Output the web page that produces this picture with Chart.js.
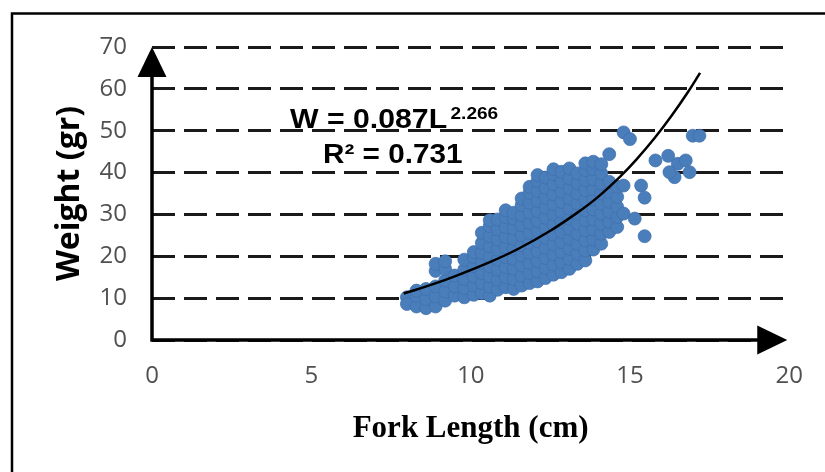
<!DOCTYPE html>
<html>
<head>
<meta charset="utf-8">
<title>Fork length vs weight</title>
<script src="https://cdn.jsdelivr.net/npm/chart.js@4.4.0/dist/chart.umd.min.js"></script>
<style>
  html, body { margin: 0; padding: 0; background: #fff; }
  #wrap { width: 825px; height: 472px; }
</style>
</head>
<body>
<div id="wrap"><canvas id="chart" width="825" height="472"></canvas></div>
<script>
// axis ticks
const xTicks = [0, 5, 10, 15, 20];
const yTicks = [0, 10, 20, 30, 40, 50, 60, 70];

// main cloud (fork length -> weights)
const colLength = [8.0, 8.3, 8.6, 8.9, 9.2, 9.5, 9.8, 10.1, 10.35, 10.6, 10.85, 11.1, 11.35, 11.6,
                   11.85, 12.1, 12.35, 12.6, 12.85, 13.1, 13.35, 13.6, 13.85, 14.1, 14.35, 14.6, 14.8];
const colWeight = [
  [10.2, 8.6],
  [8.0, 10.5, 11.8],
  [7.6, 9.8, 12.2],
  [8.0, 10.4, 12.8, 16.5, 18.2],
  [9.4, 11.6, 14.2, 17.0, 18.8],
  [10.6, 12.8, 15.4],
  [10.2, 12.4, 14.6, 16.8, 19.2],
  [10.8, 13.0, 15.2, 17.6, 19.8, 21.0],
  [11.2, 13.6, 16.0, 18.4, 20.8, 23.2, 25.6],
  [10.6, 12.8, 15.2, 17.6, 20.0, 22.4, 24.8, 27.2, 28.6],
  [12.0, 14.4, 16.8, 19.2, 21.6, 24.0, 26.4, 28.8],
  [12.6, 15.0, 17.4, 19.8, 22.2, 24.6, 27.0, 29.4, 31.0],
  [12.2, 14.6, 17.0, 19.4, 21.8, 24.2, 26.6, 29.0, 30.4],
  [13.0, 15.4, 17.8, 20.2, 22.6, 25.0, 27.4, 29.8, 32.2, 33.8],
  [13.6, 16.0, 18.4, 20.8, 23.2, 25.6, 28.0, 30.4, 32.8, 35.2, 36.6],
  [14.0, 16.4, 18.8, 21.2, 23.6, 26.0, 28.4, 30.8, 33.2, 35.6, 38.0, 39.4],
  [14.8, 17.2, 19.6, 22.0, 24.4, 26.8, 29.2, 31.6, 34.0, 36.4, 38.8],
  [15.6, 18.0, 20.4, 22.8, 25.2, 27.6, 30.0, 32.4, 34.8, 37.2, 39.6, 40.8],
  [16.2, 18.6, 21.0, 23.4, 25.8, 28.2, 30.6, 33.0, 35.4, 37.8, 40.2],
  [17.0, 19.4, 21.8, 24.2, 26.6, 29.0, 31.4, 33.8, 36.2, 38.6, 41.0],
  [18.2, 20.6, 23.0, 25.4, 27.8, 30.2, 32.6, 35.0, 37.4, 39.8],
  [19.0, 21.4, 23.8, 26.2, 28.6, 31.0, 33.4, 35.8, 38.2, 40.6, 42.2],
  [21.6, 24.0, 26.4, 28.8, 31.2, 33.6, 36.0, 38.4, 40.8, 42.6],
  [23.0, 25.4, 27.8, 30.2, 32.6, 35.0, 37.4, 39.8, 42.0],
  [25.8, 28.2, 30.6, 33.0, 35.4, 37.8, 44.4],
  [27.0, 29.4, 31.8, 34.2, 36.6],
  [30.2, 36.9, 49.6]
];

// fish sitting away from the main cloud
const outLength = [15.0, 15.35, 15.46, 15.15, 15.46, 15.8, 16.2, 16.5, 16.75, 16.4, 16.87, 16.24, 16.97, 17.18];
const outWeight = [48.0, 36.9, 34.0, 29.0, 24.8, 42.9, 44.0, 42.1, 42.9, 38.9, 40.1, 40.1, 48.8, 48.8];

// fitted power curve as drawn in the figure
const trendLength = [7.9, 8.8, 9.5, 10.6, 11.5, 12.5, 13.4, 14.0, 14.7, 15.2, 15.8, 16.3, 16.8, 17.2];
const trendWeight = [11.1, 13.3, 15.2, 18.6, 21.8, 26.1, 30.7, 34.2, 39.1, 43.1, 48.5, 53.5, 59.0, 63.8];

const eqText = 'W = 0.087L';
const eqPower = '2.266';
const r2Text = 'R\u00b2 = 0.731';

// build point lists for the library
const cloud = [];
colLength.forEach((len, i) => {
  colWeight[i].forEach(w => cloud.push({ x: len, y: w }));
});
outLength.forEach((len, i) => cloud.push({ x: len, y: outWeight[i] }));
const trend = trendLength.map((len, i) => ({ x: len, y: trendWeight[i] }));

const tickFont = { family: '"Open Sans", sans-serif', size: 24 };
const tickColor = '#505050';

// frame, arrow axes and the equation text
const decor = {
  id: 'decor',
  afterDraw(chart) {
    const ctx = chart.ctx;
    const a = chart.chartArea;
    ctx.save();
    ctx.strokeStyle = '#000';
    ctx.fillStyle = '#000';

    // outer box (only top and left edges are inside the picture)
    ctx.lineWidth = 2.5;
    ctx.beginPath();
    ctx.moveTo(12, 472);
    ctx.lineTo(12, 13.5);
    ctx.lineTo(825, 13.5);
    ctx.stroke();

    // axes
    ctx.lineWidth = 3.5;
    ctx.beginPath();
    ctx.moveTo(a.left, a.top + 20);
    ctx.lineTo(a.left, a.bottom);
    ctx.lineTo(a.right - 20, a.bottom);
    ctx.stroke();

    // arrow heads
    ctx.beginPath();
    ctx.moveTo(a.left, a.top);
    ctx.lineTo(a.left - 14.5, a.top + 30);
    ctx.lineTo(a.left + 14.5, a.top + 30);
    ctx.closePath();
    ctx.fill();
    ctx.beginPath();
    ctx.moveTo(a.right - 2, a.bottom);
    ctx.lineTo(a.right - 32, a.bottom - 14.5);
    ctx.lineTo(a.right - 32, a.bottom + 14.5);
    ctx.closePath();
    ctx.fill();

    // equation
    ctx.textBaseline = 'alphabetic';
    ctx.textAlign = 'left';
    ctx.save();
    ctx.translate(290, 128);
    ctx.scale(1.12, 1);
    ctx.font = 'bold 27px "Liberation Sans", Arial, sans-serif';
    ctx.fillText(eqText, 0, 0);
    const w = ctx.measureText(eqText).width;
    ctx.font = 'bold 17px "Liberation Sans", Arial, sans-serif';
    ctx.fillText(eqPower, w + 3, -9);
    ctx.restore();

    ctx.save();
    ctx.translate(323, 163);
    ctx.scale(1.1, 1);
    ctx.font = 'bold 27px "Liberation Sans", Arial, sans-serif';
    ctx.fillText(r2Text, 0, 0);
    ctx.restore();

    ctx.restore();
  }
};

new Chart(document.getElementById('chart'), {
  type: 'scatter',
  data: {
    datasets: [
      {
        // trend line first so it is painted on top of the dots
        type: 'line',
        data: trend,
        borderColor: '#000',
        borderWidth: 2.5,
        pointRadius: 0,
        tension: 0.4,
        fill: false
      },
      {
        data: cloud,
        pointRadius: 6.5,
        pointBackgroundColor: '#4a7ebb',
        pointBorderColor: 'rgba(62,110,172,0.7)',
        pointBorderWidth: 1
      }
    ]
  },
  options: {
    responsive: false,
    animation: false,
    layout: { padding: { top: 47, right: 33, bottom: 0, left: 14 } },
    plugins: { legend: { display: false }, tooltip: { enabled: false } },
    scales: {
      x: {
        type: 'linear',
        min: xTicks[0],
        max: xTicks[xTicks.length - 1],
        ticks: { stepSize: xTicks[1] - xTicks[0], font: tickFont, color: tickColor, padding: 22 },
        grid: { display: false, drawTicks: false },
        border: { display: false },
        title: {
          display: true,
          text: 'Fork Length (cm)',
          color: '#000',
          font: { family: '"Liberation Serif", "Times New Roman", serif', size: 31, weight: 'bold' },
          padding: { top: 0, bottom: 24 }
        },
        afterFit: s => { s.height = 132; }
      },
      y: {
        type: 'linear',
        min: yTicks[0],
        max: yTicks[yTicks.length - 1],
        ticks: { stepSize: yTicks[1] - yTicks[0], font: tickFont, color: tickColor, padding: 25 },
        grid: { color: '#1a1a1a', lineWidth: 3, drawTicks: false },
        border: { display: false, dash: [23, 9] },
        title: {
          display: true,
          text: 'Weight (gr)',
          color: '#000',
          font: { family: '"Open Sans", sans-serif', size: 32, weight: 'bold' },
          padding: { top: 37, bottom: 0 }
        },
        afterFit: s => { s.width = 138; }
      }
    }
  },
  plugins: [decor]
});
</script>
</body>
</html>
